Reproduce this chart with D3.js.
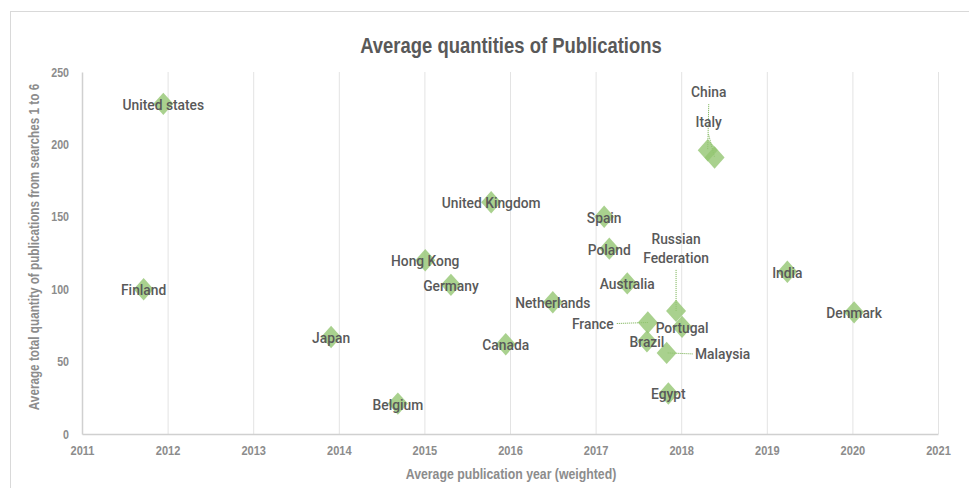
<!DOCTYPE html>
<html>
<head>
<meta charset="utf-8">
<script src="https://cdn.jsdelivr.net/npm/d3@7"></script>
<style>
  body { margin: 0; background: #fff; }
  svg { display: block; }
  .narrow { font-family: "Liberation Sans", Arial, sans-serif; font-weight: bold; }
</style>
</head>
<body>
<svg id="chart" width="969" height="488"></svg>
<script>
// data
const countries = ["United states", "Finland", "Japan", "Belgium", "Hong Kong", "Germany",
	"United Kingdom", "Canada", "Netherlands", "Spain", "Poland", "Australia", "France",
	"Brazil", "Russian Federation", "Portugal", "Malaysia", "Egypt", "China", "Italy",
	"India", "Denmark"];
const avgYear = [2011.95, 2011.72, 2013.91, 2014.69, 2015.01, 2015.31,
	2015.78, 2015.95, 2016.50, 2017.10, 2017.16, 2017.37, 2017.61,
	2017.60, 2017.94, 2018.01, 2017.83, 2017.85, 2018.31, 2018.39,
	2019.24, 2020.02];
const avgQuantity = [228, 100, 67, 21, 120, 103,
	160, 62, 91, 150, 128, 104, 77,
	64, 85, 74, 56, 28, 196, 191,
	112, 84];
const xTicks = [2011, 2012, 2013, 2014, 2015, 2016, 2017, 2018, 2019, 2020, 2021];
const yTicks = [0, 50, 100, 150, 200, 250];

// labels that Excel moved away from their marker (pixel offsets, with a leader line)
const labelMoves = {
	"China": { dx: 1, dy: -58, lines: ["China"] },
	"Italy": { dx: -6, dy: -35, lines: ["Italy"] },
	"Russian Federation": { dx: 0, dy: -72, lines: ["Russian", "Federation"] },
	"France": { dx: -55, dy: 1, lines: ["France"] },
	"Malaysia": { dx: 56, dy: 1, lines: ["Malaysia"] }
};

const svg = d3.select('#chart');
const margin = { left: 82, right: 31, top: 72, bottom: 54 };
const width = 969, height = 488;
const squeeze = 0.82; // no narrow font installed, so squeeze the bold one

const x = d3.scaleLinear().domain([2011, 2021]).range([margin.left, width - margin.right]);
const y = d3.scaleLinear().domain([0, 250]).range([height - margin.bottom, margin.top]);

const points = countries.map((name, i) => ({ name: name, year: avgYear[i], value: avgQuantity[i] }));

function narrowTicks(sel) {
	sel.attr('x', function() { return (+this.getAttribute('x') || 0) / squeeze; })
		.attr('transform', `scale(${squeeze},1)`);
}

// chart frame
svg.append('rect')
	.attr('x', 10.5).attr('y', 11.5)
	.attr('width', 1000).attr('height', 600)
	.attr('fill', 'none')
	.attr('stroke', '#d9d9d9');

// title
svg.append('text')
	.attr('class', 'narrow')
	.attr('transform', `translate(511,45) scale(${squeeze},1)`)
	.attr('text-anchor', 'middle')
	.attr('dominant-baseline', 'central')
	.style('font-size', '22.5px')
	.style('fill', '#595959')
	.text('Average quantities of Publications');

// vertical gridlines
svg.append('g')
	.selectAll('line')
	.data(xTicks.slice(1))
	.enter()
	.append('line')
	.attr('x1', d => x(d) + 0.5).attr('x2', d => x(d) + 0.5)
	.attr('y1', y(250)).attr('y2', y(0))
	.attr('stroke', '#e3e3e3');

// x axis
let xAxis = svg.append('g')
	.attr('class', 'narrow')
	.attr('transform', `translate(0,${y(0)})`)
	.call(d3.axisBottom(x).tickValues(xTicks).tickFormat(d3.format('d')).tickSize(0).tickPadding(11));
xAxis.select('.domain').attr('stroke', '#d0d0d0').attr('stroke-width', 1.5);
xAxis.selectAll('text')
	.style('font-size', '13.5px')
	.style('fill', '#8c8c8c')
	.call(narrowTicks);

// y axis
let yAxis = svg.append('g')
	.attr('class', 'narrow')
	.attr('transform', `translate(${x(2011)},0)`)
	.call(d3.axisLeft(y).tickValues(yTicks).tickSize(0).tickPadding(13));
yAxis.select('.domain').attr('stroke', '#d0d0d0').attr('stroke-width', 1.5);
yAxis.selectAll('text')
	.style('font-size', '13px')
	.style('fill', '#8c8c8c')
	.call(narrowTicks);

// axis titles
svg.append('text')
	.attr('class', 'narrow')
	.attr('transform', `translate(511,474) scale(${squeeze},1)`)
	.attr('text-anchor', 'middle')
	.attr('dominant-baseline', 'central')
	.style('font-size', '15px')
	.style('fill', '#8c8c8c')
	.text('Average publication year (weighted)');

svg.append('text')
	.attr('class', 'narrow')
	.attr('transform', `translate(34,247) rotate(-90) scale(${squeeze},1)`)
	.attr('text-anchor', 'middle')
	.attr('dominant-baseline', 'central')
	.style('font-size', '14.3px')
	.style('fill', '#8c8c8c')
	.text('Average total quantity of publications from searches 1 to 6');

// leader lines
let leaders = svg.append('g');
points.forEach(d => {
	let m = labelMoves[d.name];
	if (!m) { return; }
	let px = x(d.year), py = y(d.value);
	let lx = px + m.dx, ly = py + m.dy;
	let x1, y1;
	if (Math.abs(m.dy) > Math.abs(m.dx)) {
		// label above the marker
		x1 = lx; y1 = ly + (m.lines.length - 1) * 19 + 12;
	} else if (m.dx < 0) {
		x1 = lx + 24; y1 = ly;
	} else {
		x1 = lx - 30; y1 = ly;
	}
	leaders.append('line')
		.attr('x1', x1).attr('y1', y1)
		.attr('x2', px).attr('y2', py)
		.attr('stroke', '#70ad47')
		.attr('stroke-width', 1)
		.attr('stroke-dasharray', '1,1');
});

// diamonds
const diamond = d3.symbol().type(d3.symbolSquare).size(200);
svg.append('g')
	.selectAll('path')
	.data(points)
	.enter()
	.append('path')
	.attr('d', diamond)
	.attr('transform', d => `translate(${x(d.year)},${y(d.value)}) scale(1,1.12) rotate(45)`)
	.style('fill', '#93c572')
	.style('fill-opacity', 0.8);

// data labels
let labels = svg.append('g')
	.selectAll('text')
	.data(points)
	.enter()
	.append('text')
	.attr('text-anchor', 'middle')
	.style('font-family', 'Roboto, sans-serif')
	.style('font-size', '13.8px')
	.style('font-weight', '500')
	.style('fill', '#595959');

labels.each(function(d) {
	let m = labelMoves[d.name] || { dx: 0, dy: 1, lines: [d.name] };
	let t = d3.select(this);
	m.lines.forEach((line, i) => {
		t.append('tspan')
			.attr('x', x(d.year) + m.dx)
			.attr('y', y(d.value) + m.dy + i * 19)
			.attr('dominant-baseline', 'central')
			.text(line);
	});
});
</script>
</body>
</html>
